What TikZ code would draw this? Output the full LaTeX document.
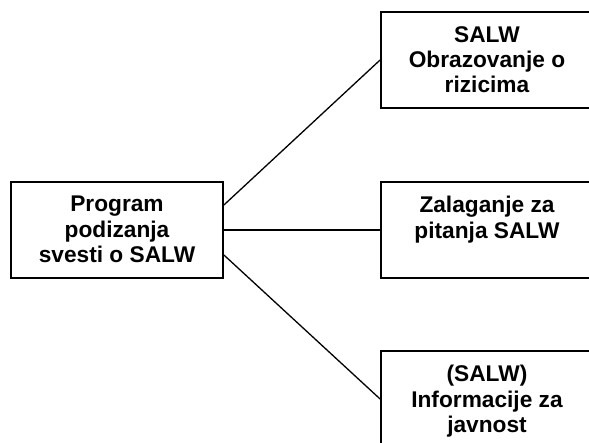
\documentclass[tikz,border=0pt]{standalone}
\usepackage{fontspec}
\setmainfont{Liberation Sans}
\usetikzlibrary{positioning}

\begin{document}
\begin{tikzpicture}[x=1pt, y=1pt,
  box/.style={draw, line width=1.8pt, minimum width=212pt, minimum height=96pt, inner sep=0pt},
  widebox/.style={box, minimum width=232pt},
  boxtext/.style={font=\fontsize{22.7}{25.3}\selectfont\bfseries, align=center, inner sep=0pt},
  link/.style={line width=1.3pt}]
  \useasboundingbox (0,0) rectangle (589,443);
  \clip (0,0) rectangle (589,443);

  % Program box on left
  \node[box] (prog) at (117,213) {};
  \node[boxtext, below=15pt of prog.north] (progText) {Program\\podizanja\\svesti o SALW};

  % Boxes on right (cut off by the page edge)
  \node[widebox] (salwEdu) at (497,383) {};
  \node[boxtext, below=15pt of salwEdu.north, xshift=-10pt] (salwEduText) {SALW\\Obrazovanje o\\rizicima};
  \node[widebox] (salwAdv) at (497,213) {};
  \node[boxtext, below=15pt of salwAdv.north, xshift=-10pt] (salwAdvText) {Zalaganje za\\pitanja SALW};
  \node[widebox] (salwInfo) at (497,44) {};
  \node[boxtext, below=15pt of salwInfo.north, xshift=-10pt] (salwInfoText) {(SALW)\\Informacije za\\javnost};

  % Connections
  \draw[link] ([yshift=25pt]prog.east) -- (salwEdu.west);
  \draw[link] (prog.east) -- (salwAdv.west);
  \draw[link] ([yshift=-25pt]prog.east) -- (salwInfo.west);
\end{tikzpicture}
\end{document}
